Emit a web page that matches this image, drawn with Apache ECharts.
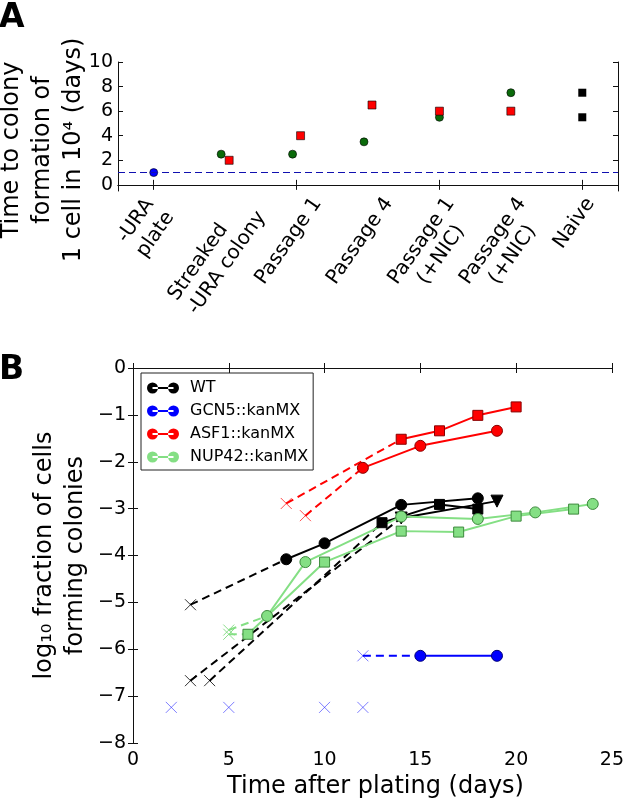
<!DOCTYPE html>
<html><head><meta charset="utf-8">
<script src="https://cdn.jsdelivr.net/npm/echarts@6/dist/echarts.min.js"></script>
<style>html,body{margin:0;padding:0;background:#fff}#c{width:627px;height:801px}</style>
</head><body><div id="c"></div>
<script>
// ---------- Panel A data ----------
const catsA = ['-URA\nplate', 'Streaked\n-URA colony', 'Passage 1', 'Passage 4', 'Passage 1\n(+NIC)', 'Passage 4\n(+NIC)', 'Naive'];
const blueA = [1, null, null, null, null, null, null];
const greenA = [null, 2.5, 2.5, 3.5, 5.5, 7.5, null];
const redA = [null, 2, 4, 6.5, 6, 6, null];
const blackA1 = [null, null, null, null, null, null, 7.5];
const blackA2 = [null, null, null, null, null, null, 5.5];
const baselineA = 1;
const ticksA = [0, 2, 4, 6, 8, 10];

// ---------- Panel B data ----------
const wtCircStart = [3, -5.05];
const wtCircDays = [8, 10, 14, 18];
const wtCircLog = [-4.08, -3.74, -2.92, -2.78];
const wtSqStart = [4, -6.67];
const wtSqDays = [13, 16, 18];
const wtSqLog = [-3.3, -2.91, -3.01];
const wtTriStart = [3, -6.67];
const wtTriDays = [14, 19];
const wtTriLog = [-3.2, -2.84];

const gcnCircStart = [12, -6.14];
const gcnCircDays = [15, 19];
const gcnCircLog = [-6.14, -6.14];
const gcnNoColDays = [2, 5, 10, 12];
const gcnNoColLog = [-7.24, -7.24, -7.24, -7.24];

const asfSqStart = [8, -2.89];
const asfSqDays = [14, 16, 18, 20];
const asfSqLog = [-1.52, -1.34, -1.01, -0.83];
const asfCircStart = [9, -3.15];
const asfCircDays = [12, 15, 19];
const asfCircLog = [-2.13, -1.66, -1.34];

const nupCircStart = [5, -5.59];
const nupCircDays = [7, 9, 14, 18, 21, 24];
const nupCircLog = [-5.29, -4.14, -3.17, -3.22, -3.08, -2.9];
const nupSqStart = [5, -5.68];
const nupSqDays = [6, 10, 14, 17, 20, 23];
const nupSqLog = [-5.68, -4.14, -3.48, -3.5, -3.16, -3.01];

const legendNames = ['WT', 'GCN5::kanMX', 'ASF1::kanMX', 'NUP42::kanMX'];

// ---------- styles ----------
const FONT = '"DejaVu Sans", "Liberation Sans", sans-serif';
const gridA = {left: 118, top: 62, width: 500, height: 129};
const gridB = {left: 133, top: 368, width: 485, height: 375};
const offGreenA = [0, -4, -4, -4, 0, 0, 0];
const offRedA = [0, 4, 4, 4, 0, 0, 0];
const CROSS = 'path://M0,0L10,10M10,0L0,10';
const COL = {
  wt: {c: '#000000', e: '#000000', x: 'rgba(0,0,0,0.8)'},
  gcn: {c: '#0000ff', e: '#00007a', x: 'rgba(40,40,255,0.6)'},
  asf: {c: '#ff0000', e: '#8a0000', x: 'rgba(255,0,0,0.7)'},
  nup: {c: '#84df84', e: '#3d8a3d', x: 'rgba(120,215,120,0.85)'}
};

const axLine = {show: true, lineStyle: {color: '#111', width: 1}};
function tick(extra) { return Object.assign({show: true, inside: true, length: 5, lineStyle: {color: '#111', width: 1}}, extra || {}); }
const lblStyle = {color: '#000', fontSize: 19, fontFamily: FONT};

function ptsA(arr, offs) {
  const out = [];
  arr.forEach((v, i) => { if (v != null) out.push({value: [i, v], symbolOffset: [offs ? offs[i] : 0, 0]}); });
  return out;
}

function track(name, col, symbol, rot, size, start, days, logs) {
  const pts = days.map((d, i) => [d, logs[i]]);
  return [
    {name: name + ' (extrap.)', type: 'line', xAxisIndex: 2, yAxisIndex: 2, data: [start, pts[0]], symbol: 'none',
      lineStyle: {color: col.c, width: 2, type: [8, 5]}, silent: true},
    {name: name, type: 'line', xAxisIndex: 2, yAxisIndex: 2, data: pts, symbol: symbol, symbolSize: size, symbolRotate: rot,
      showAllSymbol: true, lineStyle: {color: col.c, width: 2}, itemStyle: {color: col.c, borderColor: col.e, borderWidth: 1, opacity: 1}},
    {name: name + ' (none)', type: 'scatter', xAxisIndex: 2, yAxisIndex: 2, data: [start], symbol: CROSS, symbolSize: 11,
      itemStyle: {color: 'transparent', borderColor: col.x, borderWidth: 1, opacity: 1}}
  ];
}

const seriesB = [].concat(
  track('WT', COL.wt, 'circle', 0, 11, wtCircStart, wtCircDays, wtCircLog),
  track('WT sq', COL.wt, 'rect', 0, 10, wtSqStart, wtSqDays, wtSqLog),
  track('WT tri', COL.wt, 'triangle', 180, 12, wtTriStart, wtTriDays, wtTriLog),
  track('GCN5::kanMX', COL.gcn, 'circle', 0, 11, gcnCircStart, gcnCircDays, gcnCircLog),
  [{name: 'GCN5 none', type: 'scatter', xAxisIndex: 2, yAxisIndex: 2,
    data: gcnNoColDays.map((d, i) => [d, gcnNoColLog[i]]), symbol: CROSS, symbolSize: 11,
    itemStyle: {color: 'transparent', borderColor: COL.gcn.x, borderWidth: 1, opacity: 1}}],
  track('ASF1::kanMX', COL.asf, 'circle', 0, 11, asfCircStart, asfCircDays, asfCircLog),
  track('ASF1 sq', COL.asf, 'rect', 0, 10, asfSqStart, asfSqDays, asfSqLog),
  track('NUP42::kanMX', COL.nup, 'circle', 0, 11, nupCircStart, nupCircDays, nupCircLog),
  track('NUP42 sq', COL.nup, 'rect', 0, 10, nupSqStart, nupSqDays, nupSqLog)
);

const seriesA = [
  {name: 'A blue', type: 'scatter', xAxisIndex: 0, yAxisIndex: 0, data: ptsA(blueA), symbol: 'circle', symbolSize: 8,
    itemStyle: {color: '#0000ff', borderColor: '#000', borderWidth: 0.6, opacity: 1},
    markLine: {silent: true, symbol: 'none', label: {show: false}, lineStyle: {color: '#1010b0', width: 1, type: [7, 4]},
      data: [{yAxis: baselineA}]}},
  {name: 'A green', type: 'scatter', xAxisIndex: 0, yAxisIndex: 0, data: ptsA(greenA, offGreenA), symbol: 'circle', symbolSize: 8,
    itemStyle: {color: '#0a6a0a', borderColor: '#000', borderWidth: 0.6, opacity: 1}},
  {name: 'A red', type: 'scatter', xAxisIndex: 0, yAxisIndex: 0, data: ptsA(redA, offRedA), symbol: 'rect', symbolSize: 8,
    itemStyle: {color: '#ff0000', borderColor: '#000', borderWidth: 0.6, opacity: 1}},
  {name: 'A black1', type: 'scatter', xAxisIndex: 0, yAxisIndex: 0, data: ptsA(blackA1), symbol: 'rect', symbolSize: 8,
    itemStyle: {color: '#000', opacity: 1}},
  {name: 'A black2', type: 'scatter', xAxisIndex: 0, yAxisIndex: 0, data: ptsA(blackA2), symbol: 'rect', symbolSize: 8,
    itemStyle: {color: '#000', opacity: 1}}
];

const ICON = 'path://M0,5.5A5.5,5.5,0,1,0,11,5.5A5.5,5.5,0,1,0,0,5.5ZM5.5,4.5L26.5,4.5L26.5,6.5L5.5,6.5ZM21,5.5A5.5,5.5,0,1,0,32,5.5A5.5,5.5,0,1,0,21,5.5Z';
const legCols = [COL.wt, COL.gcn, COL.asf, COL.nup];

const option = {
  animation: false,
  backgroundColor: '#fff',
  grid: [
    Object.assign({containLabel: false}, gridA),
    Object.assign({containLabel: false}, gridB)
  ],
  legend: {
    orient: 'vertical', left: 141, top: 373, padding: [7, 5, 5, 6], itemGap: 7,
    itemWidth: 32, itemHeight: 11, selectedMode: false,
    backgroundColor: '#fff', borderColor: '#222', borderWidth: 1, borderRadius: 0,
    textStyle: {color: '#000', fontSize: 16, fontFamily: FONT, lineHeight: 16, padding: [0, 0, 0, 6]},
    data: legendNames.map((n, i) => ({name: n, icon: ICON, itemStyle: {color: legCols[i].c, borderWidth: 0}}))
  },
  xAxis: [
    {gridIndex: 0, type: 'category', data: catsA, boundaryGap: true, position: 'bottom', axisLine: axLine,
      axisTick: tick({alignWithLabel: true}), axisLabel: {show: false}, splitLine: {show: false}},
    {gridIndex: 0, type: 'category', data: catsA, boundaryGap: true, position: 'top', axisLine: axLine,
      axisTick: tick({alignWithLabel: true}), axisLabel: {show: false}, splitLine: {show: false}},
    {gridIndex: 1, type: 'value', min: 0, max: 25, interval: 5, position: 'bottom', axisLine: axLine, axisTick: tick(),
      axisLabel: Object.assign({margin: 8, showMinLabel: true, showMaxLabel: true, hideOverlap: false}, lblStyle), splitLine: {show: false}},
    {gridIndex: 1, type: 'value', min: 0, max: 25, interval: 5, position: 'top', axisLine: axLine, axisTick: tick(),
      axisLabel: {show: false}, splitLine: {show: false}}
  ],
  yAxis: [
    {gridIndex: 0, type: 'value', min: -0.5, max: 10, position: 'left', axisLine: axLine,
      axisTick: tick({customValues: ticksA}),
      axisLabel: Object.assign({margin: 5, customValues: ticksA}, lblStyle), splitLine: {show: false}},
    {gridIndex: 0, type: 'value', min: -0.5, max: 10, position: 'right', axisLine: axLine,
      axisTick: tick({customValues: ticksA}), axisLabel: {show: false}, splitLine: {show: false}},
    {gridIndex: 1, type: 'value', min: -8, max: 0, interval: 1, position: 'left', axisLine: axLine, axisTick: tick(),
      axisLabel: Object.assign({margin: 7, showMinLabel: true, showMaxLabel: true,
        formatter: v => (v < 0 ? '\u2212' + Math.abs(v) : String(v))}, lblStyle), splitLine: {show: false}},
    {gridIndex: 1, type: 'value', min: -8, max: 0, interval: 1, position: 'right', axisLine: axLine, axisTick: tick(),
      axisLabel: {show: false}, splitLine: {show: false}}
  ],
  series: seriesA.concat(seriesB)
};

const chart = echarts.init(document.getElementById('c'));
chart.setOption(option);

// ---------- text elements positioned from the axes ----------
const ctx = document.createElement('canvas').getContext('2d');
const labFont = '20px ' + FONT;
ctx.font = labFont;
const theta = 55 * Math.PI / 180;
const LH = 24;
const axisYA = gridA.top + gridA.height;
const leftAligned = [false, true, false, false, false, false, false];
const graphics = [];
catsA.forEach((lab, i) => {
  const tx = chart.convertToPixel({xAxisIndex: 0}, i);
  const lines = lab.split('\n');
  const W = Math.max.apply(null, lines.map(l => ctx.measureText(l).width));
  const H = lines.length * LH;
  const BH = W * Math.sin(theta) + H * Math.cos(theta);
  graphics.push({
    type: 'text', x: tx - 8, y: axisYA + 2 + BH / 2, rotation: theta, silent: true,
    style: {text: lab, x: leftAligned[i] ? -W / 2 : 0, y: 0, fill: '#000', font: labFont,
      align: leftAligned[i] ? 'left' : 'center', verticalAlign: 'middle', lineHeight: LH}
  });
});
const titleFont = '24px ' + FONT;
graphics.push({type: 'text', x: 43, y: 150, rotation: Math.PI / 2, silent: true,
  style: {text: 'Time to colony\nformation of\n1 cell in 10\u2074 (days)', fill: '#000', font: titleFont,
    align: 'center', verticalAlign: 'middle', lineHeight: 31}});
graphics.push({type: 'text', x: 60, y: gridB.top + gridB.height / 2, rotation: Math.PI / 2, silent: true,
  style: {text: 'log\u2081\u2080 fraction of cells\nforming colonies', fill: '#000', font: titleFont,
    align: 'center', verticalAlign: 'middle', lineHeight: 31}});
graphics.push({type: 'text', x: gridB.left + gridB.width / 2, y: 787, silent: true,
  style: {text: 'Time after plating (days)', fill: '#000', font: titleFont, align: 'center', verticalAlign: 'middle'}});
graphics.push({type: 'text', x: -1, y: 18, silent: true,
  style: {text: 'A', fill: '#000', font: 'bold 33px ' + FONT, align: 'left', verticalAlign: 'middle'}});
graphics.push({type: 'text', x: -1, y: 370, silent: true,
  style: {text: 'B', fill: '#000', font: 'bold 33px ' + FONT, align: 'left', verticalAlign: 'middle'}});
chart.setOption({graphic: graphics});
</script>
</body></html>
